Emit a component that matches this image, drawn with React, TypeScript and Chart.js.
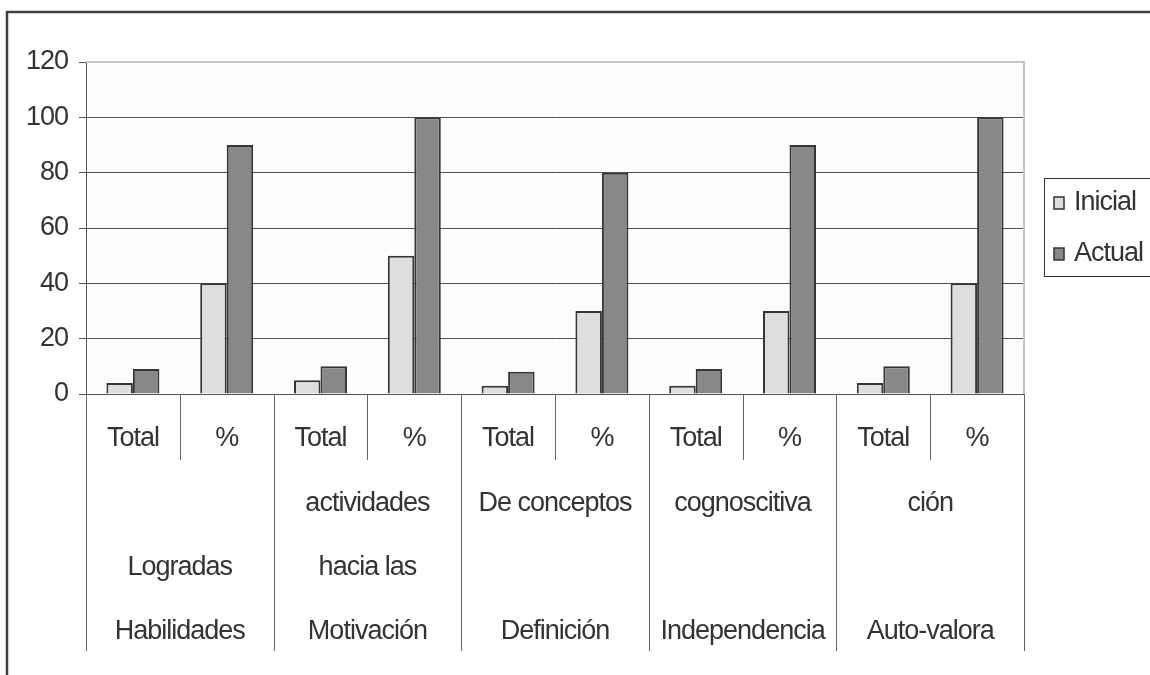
import React, { useEffect, useRef } from 'react';
import { Chart, registerables } from 'chart.js';

Chart.register(...registerables);

const categories = ['Total', '%', 'Total', '%', 'Total', '%', 'Total', '%', 'Total', '%'];
const groupLabels = [
  ['', 'Logradas', 'Habilidades'],
  ['actividades', 'hacia las', 'Motivación'],
  ['De conceptos', '', 'Definición'],
  ['cognoscitiva', '', 'Independencia'],
  ['ción', '', 'Auto-valora'],
];
const inicial = [4, 40, 5, 50, 3, 30, 3, 30, 4, 40];
const actual = [9, 90, 10, 100, 8, 80, 9, 90, 10, 100];
const seriesNames = ['Inicial', 'Actual'];
const yMin = 0;
const yMax = 120;
const yStep = 20;

const FONT = "'Liberation Sans', Arial, sans-serif";
const FSIZE = 27;
const TEXT = '#333333';

const decor = {
  id: 'decor',
  beforeLayout(chart: any) {
    (chart.ctx as any).letterSpacing = '-1px';
  },
  beforeDraw(chart: any) {
    const { ctx, chartArea: a } = chart;
    (ctx as any).letterSpacing = '-1px';
    ctx.save();
    ctx.fillStyle = '#ffffff';
    ctx.fillRect(0, 0, chart.width, chart.height);
    ctx.fillStyle = '#fdfdfd';
    ctx.fillRect(a.left, a.top, a.right - a.left, a.bottom - a.top);
    ctx.restore();
  },
  afterDatasetsDraw(chart: any) {
    const { ctx, chartArea: a } = chart;
    ctx.save();
    ctx.strokeStyle = '#c4c4c4';
    ctx.lineWidth = 2;
    ctx.beginPath();
    ctx.moveTo(a.left, a.top);
    ctx.lineTo(a.right, a.top);
    ctx.lineTo(a.right, a.bottom);
    ctx.stroke();
    ctx.restore();
  },
  afterDraw(chart: any) {
    const { ctx, chartArea: a } = chart;
    const xs = chart.scales.x;
    ctx.save();
    // outer frame
    ctx.strokeStyle = '#404040';
    ctx.lineWidth = 2.5;
    ctx.beginPath();
    ctx.moveTo(7, 676);
    ctx.lineTo(7, 12);
    ctx.lineTo(1152, 12);
    ctx.stroke();

    // category separators
    ctx.strokeStyle = '#666666';
    ctx.lineWidth = 1;
    const n = chart.data.labels.length;
    for (let i = 0; i <= n; i++) {
      let x: number;
      if (i === 0) x = xs.left;
      else if (i === n) x = xs.right;
      else x = (xs.getPixelForValue(i - 1) + xs.getPixelForValue(i)) / 2;
      const len = i % 2 === 0 ? 257 : 66;
      ctx.beginPath();
      ctx.moveTo(Math.round(x) + 0.5, a.bottom);
      ctx.lineTo(Math.round(x) + 0.5, a.bottom + len);
      ctx.stroke();
    }

    // legend
    const lx = 1044.5, ly = 178.5;
    ctx.strokeStyle = '#333333';
    ctx.lineWidth = 1;
    ctx.strokeRect(lx, ly, 120, 98);
    ctx.font = `${FSIZE}px ${FONT}`;
    ctx.textBaseline = 'middle';
    ctx.textAlign = 'left';
    chart.data.datasets.forEach((ds: any, i: number) => {
      const cy = 203 + i * 51;
      ctx.fillStyle = ds.backgroundColor;
      ctx.fillRect(1054, cy - 6, 10, 12);
      ctx.strokeStyle = '#333333';
      ctx.lineWidth = 1.5;
      ctx.strokeRect(1054, cy - 6, 10, 12);
      ctx.fillStyle = TEXT;
      ctx.fillText(ds.label, 1074, cy);
    });
    ctx.restore();
  },
};

export default function App() {
  const ref = useRef<HTMLCanvasElement>(null);
  useEffect(() => {
    const canvas = ref.current!;
    const chart = new Chart(canvas, {
      type: 'bar',
      data: {
        labels: categories,
        datasets: [
          {
            label: seriesNames[0],
            data: inicial,
            backgroundColor: '#dedede',
            borderColor: '#363636',
            borderWidth: 2,
            categoryPercentage: 0.565,
            barPercentage: 1,
          },
          {
            label: seriesNames[1],
            data: actual,
            backgroundColor: '#888888',
            borderColor: '#363636',
            borderWidth: 2,
            categoryPercentage: 0.565,
            barPercentage: 1,
          },
        ],
      },
      options: {
        responsive: false,
        animation: false,
        layout: { padding: { left: 0, top: 62, right: 126, bottom: 11 } },
        plugins: { legend: { display: false }, tooltip: { enabled: false } },
        scales: {
          x: {
            type: 'category',
            position: 'bottom',
            weight: 0,
            offset: true,
            grid: { display: false, drawTicks: false },
            border: { display: true, color: '#555555', width: 1 },
            ticks: {
              autoSkip: false,
              maxRotation: 0,
              minRotation: 0,
              padding: 28,
              color: TEXT,
              font: { family: FONT, size: FSIZE },
            },
            afterFit(scale: any) {
              scale.height = 70;
            },
          },
          x2: {
            type: 'category',
            position: 'bottom',
            weight: 1,
            offset: true,
            labels: groupLabels as any,
            grid: { display: false, drawTicks: false },
            border: { display: false },
            ticks: {
              autoSkip: false,
              maxRotation: 0,
              minRotation: 0,
              padding: 8,
              color: TEXT,
              font: { family: FONT, size: FSIZE, lineHeight: '64px' as any },
            },
            afterFit(scale: any) {
              scale.height = 200;
            },
          },
          y: {
            min: yMin,
            max: yMax,
            grid: { color: '#505050', lineWidth: 1, tickLength: 7, drawTicks: true },
            border: { display: true, color: '#555555', width: 1 },
            ticks: {
              stepSize: yStep,
              padding: 11,
              color: TEXT,
              font: { family: FONT, size: FSIZE },
            },
            afterFit(scale: any) {
              scale.width = 86;
            },
          },
        },
      },
      plugins: [decor],
    });
    return () => chart.destroy();
  }, []);
  return (
    <div style={{ position: 'fixed', left: 0, top: 0, width: 1150, height: 675 }}>
      <canvas ref={ref} width={1150} height={675} />
    </div>
  );
}
